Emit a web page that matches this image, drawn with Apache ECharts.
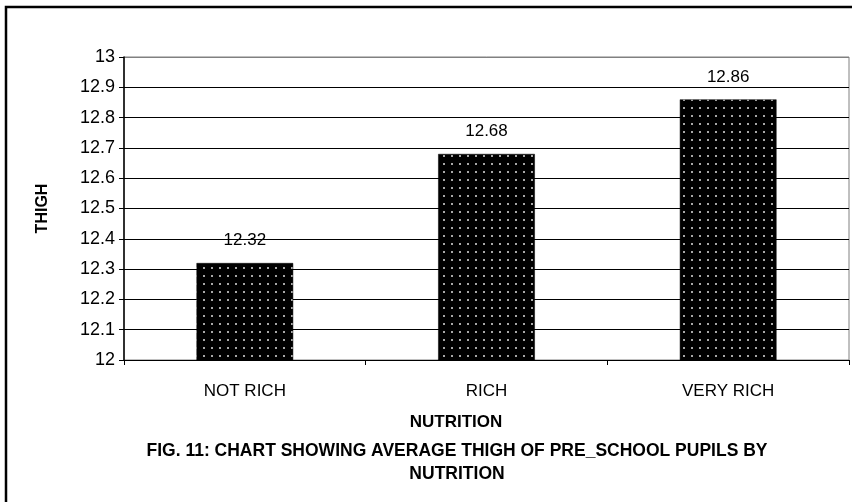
<!DOCTYPE html>
<html><head><meta charset="utf-8">
<script src="https://cdn.jsdelivr.net/npm/echarts@6/dist/echarts.min.js"></script>
<style>html,body{margin:0;padding:0;background:#fff}#c{width:852px;height:502px}</style>
</head><body><div id="c"></div>
<script>
var categories = ['NOT RICH', 'RICH', 'VERY RICH'];
var thighValues = [12.32, 12.68, 12.86];
var yTicks = ['12', '12.1', '12.2', '12.3', '12.4', '12.5', '12.6', '12.7', '12.8', '12.9', '13'];

var pat = document.createElement('canvas');
pat.width = 8; pat.height = 8;
var pc = pat.getContext('2d');
pc.fillStyle = '#000'; pc.fillRect(0, 0, 8, 8);
pc.fillStyle = '#a8a8a8'; pc.fillRect(3, 3, 2, 2);

var FONT = '"Liberation Sans", Arial, sans-serif';
var gridColors = ['#000','#000','#000','#000','#000','#000','#000','#000','#000','#000','#808080'];
var chart = echarts.init(document.getElementById('c'), null, {renderer: 'canvas'});
chart.setOption({
  animation: false,
  backgroundColor: '#fff',
  grid: {left: 124, top: 57, right: 3, bottom: 142, show: true, borderColor: '#808080', borderWidth: 1},
  xAxis: {
    type: 'category', data: categories,
    axisLine: {lineStyle: {color: '#000', width: 1}},
    axisTick: {show: true, length: 5, lineStyle: {color: '#000'}},
    axisLabel: {color: '#000', fontSize: 17, fontFamily: FONT, margin: 23}
  },
  yAxis: {
    type: 'value', min: 12, max: 13, interval: 0.1,
    name: 'THIGH', nameLocation: 'middle', nameRotate: 90, nameGap: 73,
    nameTextStyle: {color: '#000', fontSize: 16, fontWeight: 'bold', fontFamily: FONT},
    axisLine: {show: true, lineStyle: {color: '#000', width: 1.5}},
    axisTick: {show: true, length: 5, inside: false, lineStyle: {color: '#000'}},
    axisLabel: {color: '#000', fontSize: 18, fontFamily: FONT, margin: 9,
      formatter: function (v) { var i = Math.round((v - 12) * 10); return yTicks[i]; }},
    splitLine: {show: true, lineStyle: {color: gridColors, width: 1.2}}
  },
  series: [{
    type: 'bar', data: thighValues, barWidth: '40%',
    itemStyle: {color: {image: pat, repeat: 'repeat'}, borderColor: '#000', borderWidth: 0.5},
    label: {show: true, position: 'top', distance: 14, color: '#000', fontSize: 17, fontFamily: FONT,
      formatter: function (p) { return p.value.toFixed(2); }}
  }],
  graphic: [
    {type: 'rect', silent: true, shape: {x: 6, y: 7, width: 900, height: 600}, style: {fill: null, stroke: '#000', lineWidth: 2.5}},
    {type: 'text', x: 456, y: 414, style: {text: 'NUTRITION', fill: '#000', font: 'bold 17px ' + FONT, align: 'center'}},
    {type: 'text', x: 457, y: 440, style: {text: 'FIG. 11: CHART SHOWING AVERAGE THIGH OF PRE_SCHOOL PUPILS BY\nNUTRITION', fill: '#000', font: 'bold 17.5px ' + FONT, align: 'center', lineHeight: 23}}
  ]
});
</script></body></html>
